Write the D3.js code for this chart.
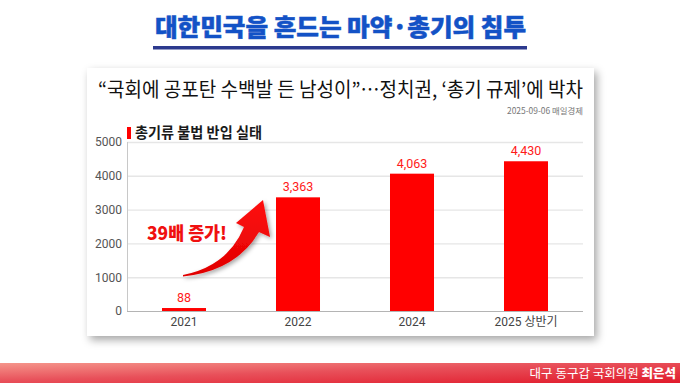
<!DOCTYPE html>
<html>
<head>
<meta charset="utf-8">
<script src="https://cdn.jsdelivr.net/npm/d3@7"></script>
<style>
  html, body { margin: 0; padding: 0; background: #fff; }
  svg { display: block; }
</style>
</head>
<body>
<svg id="chart" width="680" height="383"></svg>
<script>
// ---- data ----
const categories = ["2021", "2022", "2024", "2025 상반기"];
const values = [88, 3363, 4063, 4430];
const yTicks = [0, 1000, 2000, 3000, 4000, 5000];
const pageTitle = "대한민국을 흔드는 마약·총기의 침투";
const headline = "“국회에 공포탄 수백발 든 남성이”…정치권, ‘총기 규제’에 박차";
const sourceLine = "2025-09-06 매일경제";
const chartTitle = "총기류 불법 반입 실태";
const callout = "39배 증가!";
const footerPlain = "대구 동구갑 국회의원 ";
const footerBold = "최은석";

const KR = "'Noto Sans CJK KR', 'Noto Sans', sans-serif";
const NUM = "Roboto, 'Noto Sans CJK KR', sans-serif";

const svg = d3.select("#chart");
const defs = svg.append("defs");

// shadows / gradients
const sh = defs.append("filter").attr("id", "cardShadow")
  .attr("x", "-10%").attr("y", "-10%").attr("width", "125%").attr("height", "130%");
sh.append("feDropShadow").attr("dx", 3).attr("dy", 4).attr("stdDeviation", 4)
  .attr("flood-color", "#000").attr("flood-opacity", 0.35);

const ash = defs.append("filter").attr("id", "arrowShadow")
  .attr("x", "-20%").attr("y", "-20%").attr("width", "150%").attr("height", "150%");
ash.append("feDropShadow").attr("dx", 2).attr("dy", 2).attr("stdDeviation", 2)
  .attr("flood-color", "#000").attr("flood-opacity", 0.35);

const fg = defs.append("linearGradient").attr("id", "footGrad")
  .attr("x1", "0").attr("y1", "0").attr("x2", "1").attr("y2", "1");
fg.append("stop").attr("offset", "0").attr("stop-color", "#f5958b");
fg.append("stop").attr("offset", "0.45").attr("stop-color", "#e8505a");
fg.append("stop").attr("offset", "1").attr("stop-color", "#e11a2b");

const ag = defs.append("linearGradient").attr("id", "arrowGrad")
  .attr("x1", "0").attr("y1", "0").attr("x2", "0").attr("y2", "1");
ag.append("stop").attr("offset", "0").attr("stop-color", "#ff1010");
ag.append("stop").attr("offset", "1").attr("stop-color", "#e00000");

// ---- page title ----
svg.append("text")
  .attr("x", 155).attr("y", 36)
  .attr("textLength", 371).attr("lengthAdjust", "spacingAndGlyphs")
  .style("font-family", KR).style("font-weight", 900).style("font-size", "24px")
  .attr("fill", "#1352c6")
  .attr("stroke", "#1352c6").attr("stroke-width", 0.5)
  .text(pageTitle);
svg.append("rect").attr("x", 153).attr("y", 46).attr("width", 374).attr("height", 3.5)
  .attr("fill", "#2c3a8e");

// ---- card ----
svg.append("rect").attr("x", 87).attr("y", 68).attr("width", 507).attr("height", 268)
  .attr("fill", "#fff").attr("filter", "url(#cardShadow)");

svg.append("text")
  .attr("x", 98).attr("y", 97)
  .attr("textLength", 485).attr("lengthAdjust", "spacingAndGlyphs")
  .style("font-family", KR).style("font-weight", 400).style("font-size", "20px")
  .attr("fill", "#111")
  .text(headline);

svg.append("text")
  .attr("x", 583).attr("y", 113.5).attr("text-anchor", "end")
  .attr("textLength", 76).attr("lengthAdjust", "spacingAndGlyphs")
  .style("font-family", KR).style("font-size", "8.5px")
  .attr("fill", "#777")
  .text(sourceLine);

// chart title
svg.append("rect").attr("x", 127).attr("y", 127).attr("width", 4).attr("height", 12)
  .attr("fill", "#ff0000");
svg.append("text")
  .attr("x", 135).attr("y", 137.5)
  .attr("textLength", 127).attr("lengthAdjust", "spacingAndGlyphs")
  .style("font-family", KR).style("font-weight", 700).style("font-size", "15px")
  .attr("fill", "#1a1a1a")
  .text(chartTitle);

// ---- scales ----
const x = d3.scaleBand().domain(categories).range([127, 583])
  .paddingInner(0.614).paddingOuter(0.307);
const y = d3.scaleLinear().domain([0, 5000]).range([311, 142]);

// gridlines
const grid = svg.append("g").attr("transform", "translate(127,0)")
  .call(d3.axisLeft(y).tickValues(yTicks.filter(d => d > 0)).tickSize(-456).tickFormat(""));
grid.select(".domain").remove();
grid.selectAll("line").attr("stroke", "#e6e6e6").attr("stroke-width", 1.4);

// y axis labels
const yAxis = svg.append("g").attr("transform", "translate(127,0)")
  .call(d3.axisLeft(y).tickValues(yTicks).tickFormat(d3.format("d")).tickSize(0).tickPadding(5));
yAxis.select(".domain").remove();
yAxis.selectAll("text").style("font-family", NUM).style("font-size", "12px").attr("fill", "#555");

// axis lines
svg.append("line").attr("x1", 127.5).attr("x2", 127.5).attr("y1", y(5000)).attr("y2", y(0))
  .attr("stroke", "#c8c8c8").attr("stroke-width", 1);
svg.append("line").attr("x1", 127).attr("x2", 583).attr("y1", y(0) + 0.5).attr("y2", y(0) + 0.5)
  .attr("stroke", "#b4b4b4").attr("stroke-width", 1.2);

// x axis labels
const xAxis = svg.append("g").attr("transform", `translate(0,${y(0)})`)
  .call(d3.axisBottom(x).tickSize(0).tickPadding(6));
xAxis.select(".domain").remove();
xAxis.selectAll("text").style("font-family", NUM).style("font-size", "12px").attr("fill", "#444");

// bars
const rows = categories.map((c, i) => ({ c, v: values[i] }));
svg.append("g").selectAll("rect").data(rows).join("rect")
  .attr("x", d => x(d.c)).attr("width", x.bandwidth())
  .attr("y", d => y(d.v)).attr("height", d => y(0) - y(d.v))
  .attr("fill", "#ff0000");

// value labels
const fmt = d3.format(",");
svg.append("g").selectAll("text").data(rows).join("text")
  .attr("x", d => x(d.c) + x.bandwidth() / 2).attr("y", d => y(d.v) - 6)
  .attr("text-anchor", "middle")
  .style("font-family", NUM).style("font-size", "12.5px")
  .attr("fill", "#ff1a1a")
  .text(d => fmt(d.v));

// ---- callout arrow ----
svg.append("path")
  .attr("d", "M183,275 Q228,266 244,227 L236,223 L263,200 L270,237 L259,232 Q236,271 183,276.5 Z")
  .attr("fill", "url(#arrowGrad)").attr("filter", "url(#arrowShadow)");

svg.append("text")
  .attr("x", 147).attr("y", 240)
  .attr("textLength", 80).attr("lengthAdjust", "spacingAndGlyphs")
  .style("font-family", KR).style("font-weight", 900).style("font-size", "18px")
  .attr("fill", "#f01010")
  .text(callout);

// ---- footer ----
svg.append("rect").attr("x", 0).attr("y", 363).attr("width", 680).attr("height", 20)
  .attr("fill", "url(#footGrad)");
const ft = svg.append("text")
  .attr("x", 676).attr("y", 378).attr("text-anchor", "end")
  .style("font-family", KR).style("font-size", "12.5px").attr("fill", "#fff");
ft.append("tspan").text(footerPlain);
ft.append("tspan").style("font-weight", 900).text(footerBold);
</script>
</body>
</html>
